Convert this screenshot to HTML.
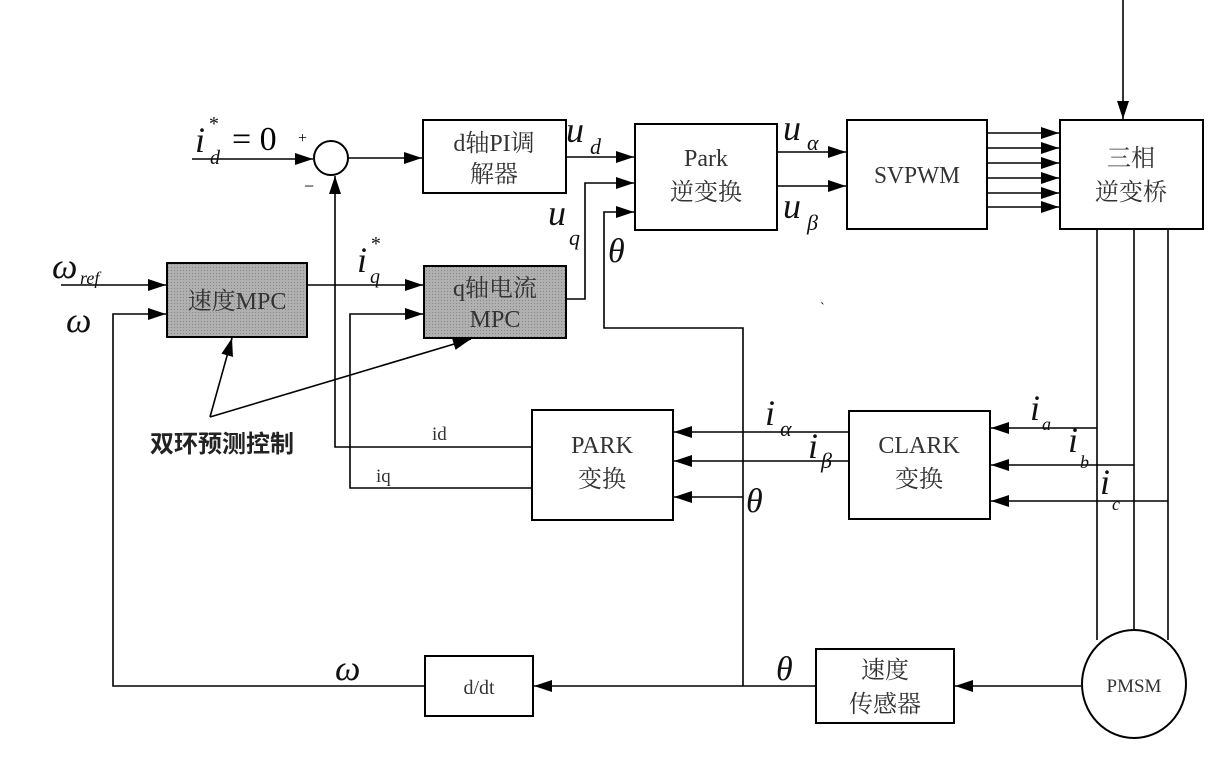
<!DOCTYPE html>
<html><head><meta charset="utf-8"><style>
body{margin:0;background:#fff}
svg{display:block}
.t{font-family:"Liberation Serif","Noto Serif CJK SC",serif;font-size:24px;fill:#333}
.m{font-family:"Liberation Serif",serif;font-style:italic;fill:#111}
</style></head><body>
<svg width="1225" height="758" viewBox="0 0 1225 758" xmlns="http://www.w3.org/2000/svg">
<defs>
<marker id="a" markerWidth="18" markerHeight="12" refX="18" refY="6" orient="auto" markerUnits="userSpaceOnUse"><path d="M0,0 L18,6 L0,12 z" fill="#000"/></marker>
<pattern id="g" width="3" height="3" patternUnits="userSpaceOnUse"><rect width="3" height="3" fill="#b0b0b0"/><rect width="1" height="1" fill="#888"/></pattern>
</defs>
<g stroke="#000" stroke-width="2" fill="none">
<rect x="423" y="120" width="143" height="73" fill="#fff"/>
<rect x="635" y="124" width="142" height="106" fill="#fff"/>
<rect x="847" y="120" width="140" height="109" fill="#fff"/>
<rect x="1060" y="120" width="143" height="109" fill="#fff"/>
<rect x="167" y="263" width="140" height="74" fill="url(#g)"/>
<rect x="424" y="266" width="142" height="72" fill="url(#g)"/>
<rect x="532" y="410" width="141" height="110" fill="#fff"/>
<rect x="849" y="411" width="141" height="108" fill="#fff"/>
<rect x="425" y="656" width="108" height="60" fill="#fff"/>
<rect x="816" y="649" width="138" height="74" fill="#fff"/>
<circle cx="331" cy="158" r="17"/>
<ellipse cx="1134" cy="684" rx="52" ry="54"/>
</g>
<g stroke="#000" stroke-width="1.6" fill="none">
<line x1="192" y1="159" x2="313" y2="159" marker-end="url(#a)"/>
<line x1="348" y1="158" x2="422" y2="158" marker-end="url(#a)"/>
<line x1="566" y1="157" x2="634" y2="157" marker-end="url(#a)"/>
<polyline points="566,299 585,299 585,183 634,183" marker-end="url(#a)"/>
<polyline points="743,686 743,328 604,328 604,212 634,212" marker-end="url(#a)"/>
<line x1="777" y1="152" x2="846" y2="152" marker-end="url(#a)"/>
<line x1="777" y1="186" x2="846" y2="186" marker-end="url(#a)"/>
<line x1="987" y1="133" x2="1059" y2="133" marker-end="url(#a)"/>
<line x1="987" y1="148" x2="1059" y2="148" marker-end="url(#a)"/>
<line x1="987" y1="163" x2="1059" y2="163" marker-end="url(#a)"/>
<line x1="987" y1="178" x2="1059" y2="178" marker-end="url(#a)"/>
<line x1="987" y1="193" x2="1059" y2="193" marker-end="url(#a)"/>
<line x1="987" y1="207" x2="1059" y2="207" marker-end="url(#a)"/>
<line x1="1123" y1="0" x2="1123" y2="119" marker-end="url(#a)"/>
<line x1="1097" y1="229" x2="1097" y2="640"/>
<line x1="1134" y1="229" x2="1134" y2="630"/>
<line x1="1168" y1="229" x2="1168" y2="640"/>
<line x1="61" y1="285" x2="166" y2="285" marker-end="url(#a)"/>
<polyline points="1081,686 955,686" marker-end="url(#a)"/>
<line x1="816" y1="686" x2="534" y2="686" marker-end="url(#a)"/>
<polyline points="425,686 113,686 113,314 166,314" marker-end="url(#a)"/>
<line x1="307" y1="285" x2="423" y2="285" marker-end="url(#a)"/>
<polyline points="532,447 335,447 335,176" marker-end="url(#a)"/>
<polyline points="532,488 350,488 350,314 423,314" marker-end="url(#a)"/>
<line x1="849" y1="432" x2="674" y2="432" marker-end="url(#a)"/>
<line x1="849" y1="461" x2="674" y2="461" marker-end="url(#a)"/>
<line x1="743" y1="497" x2="674" y2="497" marker-end="url(#a)"/>
<line x1="1097" y1="428" x2="991" y2="428" marker-end="url(#a)"/>
<line x1="1134" y1="465" x2="991" y2="465" marker-end="url(#a)"/>
<line x1="1168" y1="501" x2="991" y2="501" marker-end="url(#a)"/>
<line x1="210" y1="417" x2="232" y2="338" marker-end="url(#a)"/>
<line x1="210" y1="417" x2="471" y2="339" marker-end="url(#a)"/>
</g>
<text class="t" x="494" y="151" text-anchor="middle">d轴PI调</text>
<text class="t" x="494" y="182" text-anchor="middle">解器</text>
<text class="t" x="706" y="166" text-anchor="middle">Park</text>
<text class="t" x="706" y="200" text-anchor="middle">逆变换</text>
<text class="t" x="917" y="183" text-anchor="middle" textLength="86" lengthAdjust="spacingAndGlyphs">SVPWM</text>
<text class="t" x="1131" y="166" text-anchor="middle">三相</text>
<text class="t" x="1131" y="200" text-anchor="middle">逆变桥</text>
<text class="t" x="237" y="309" text-anchor="middle">速度MPC</text>
<text class="t" x="495" y="296" text-anchor="middle">q轴电流</text>
<text class="t" x="495" y="327" text-anchor="middle">MPC</text>
<text class="t" x="602" y="453" text-anchor="middle">PARK</text>
<text class="t" x="602" y="487" text-anchor="middle">变换</text>
<text class="t" x="919" y="453" text-anchor="middle">CLARK</text>
<text class="t" x="919" y="487" text-anchor="middle">变换</text>
<text class="t" x="479" y="694" text-anchor="middle" style="font-size:20px">d/dt</text>
<text class="t" x="885" y="678" text-anchor="middle">速度</text>
<text class="t" x="885" y="712" text-anchor="middle">传感器</text>
<text class="t" x="1134" y="692" text-anchor="middle" style="font-size:19px">PMSM</text>
<text class="t" x="432" y="440" style="font-size:19px">id</text>
<text class="t" x="376" y="482" style="font-size:19px">iq</text>
<text x="222" y="452" text-anchor="middle" style="font-family:'Noto Sans CJK SC',sans-serif;font-size:24px;font-weight:bold;fill:#222">双环预测控制</text>
<text class="m" x="195" y="152" font-size="36">i</text><text class="m" x="210" y="164" font-size="20">d</text><text class="m" x="208" y="130" font-size="20">*</text>
<text x="232" y="150" style="font-family:'Liberation Serif',serif;font-size:34px">= 0</text>
<text x="298" y="143" style="font-family:'Liberation Serif',serif;font-size:16px">+</text>
<text x="304" y="192" style="font-family:'Liberation Serif',serif;font-size:18px">−</text>
<text class="m" x="52" y="278" font-size="36">ω</text><text class="m" x="80" y="284" font-size="18">ref</text>
<text class="m" x="66" y="332" font-size="36">ω</text>
<text class="m" x="357" y="272" font-size="36">i</text><text class="m" x="370" y="283" font-size="20">q</text><text class="m" x="370" y="250" font-size="20">*</text>
<text class="m" x="566" y="142" font-size="36">u</text><text class="m" x="590" y="154" font-size="22">d</text>
<text class="m" x="548" y="225" font-size="36">u</text><text class="m" x="569" y="245" font-size="22">q</text>
<text class="m" x="608" y="262" font-size="34">θ</text>
<text class="m" x="783" y="140" font-size="36">u</text><text class="m" x="807" y="150" font-size="22">α</text>
<text class="m" x="783" y="218" font-size="36">u</text><text class="m" x="807" y="230" font-size="22">β</text>
<text class="m" x="765" y="425" font-size="36">i</text><text class="m" x="780" y="436" font-size="22">α</text>
<text class="m" x="808" y="458" font-size="36">i</text><text class="m" x="821" y="468" font-size="22">β</text>
<text class="m" x="746" y="512" font-size="34">θ</text>
<text class="m" x="1030" y="420" font-size="36">i</text><text class="m" x="1042" y="430" font-size="18">a</text>
<text class="m" x="1068" y="452" font-size="36">i</text><text class="m" x="1080" y="468" font-size="18">b</text>
<text class="m" x="1100" y="494" font-size="36">i</text><text class="m" x="1112" y="510" font-size="18">c</text>
<text class="m" x="335" y="680" font-size="36">ω</text>
<text class="m" x="776" y="680" font-size="34">θ</text>
<text x="820" y="312" style="font-family:'Liberation Serif',serif;font-size:14px">ˋ</text>
</svg>
</body></html>
